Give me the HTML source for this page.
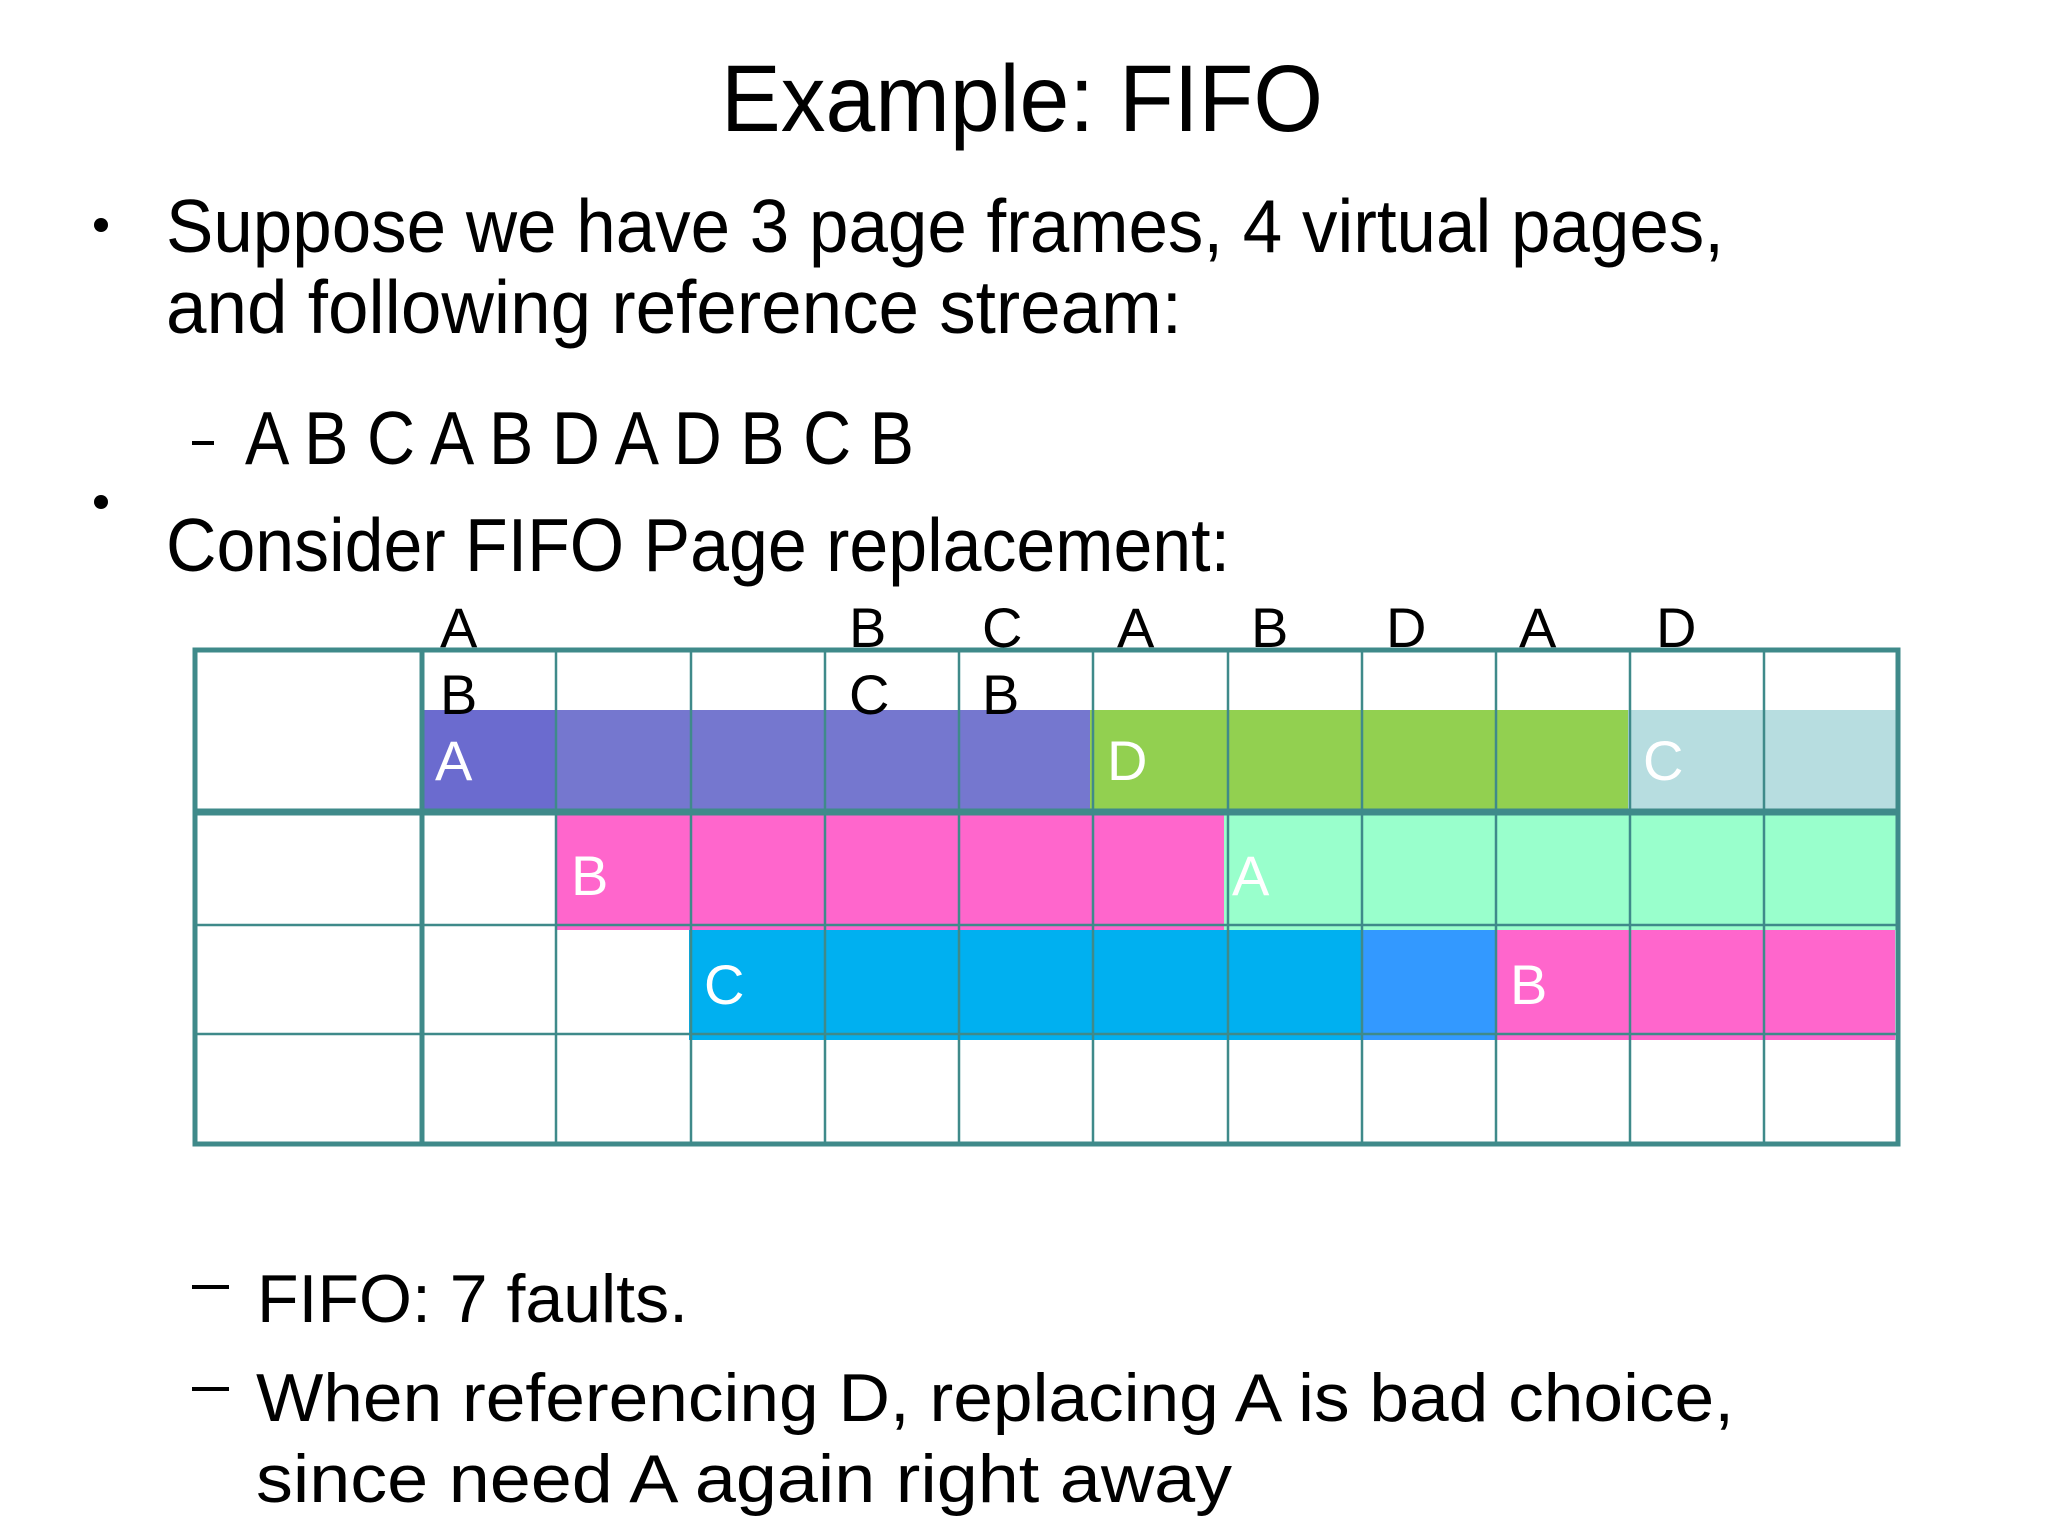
<!DOCTYPE html>
<html><head><meta charset="utf-8"><style>html,body{margin:0;padding:0;background:#fff}svg{display:block}</style></head>
<body>
<svg width="2048" height="1536" viewBox="0 0 2048 1536" xmlns="http://www.w3.org/2000/svg" font-family="'Liberation Sans', 'DejaVu Sans', sans-serif">
<rect width="2048" height="1536" fill="#fff"/>
<text x="721" y="131" font-size="95" textLength="602" lengthAdjust="spacingAndGlyphs" fill="#000">Example: FIFO</text>
<circle cx="101" cy="225" r="7" fill="#000"/>
<text x="166" y="252" font-size="75" textLength="1558" lengthAdjust="spacingAndGlyphs">Suppose we have 3 page frames, 4 virtual pages,</text>
<text x="166" y="333" font-size="75" textLength="1016" lengthAdjust="spacingAndGlyphs">and following reference stream:</text>
<rect x="192" y="441" width="22" height="4" fill="#000"/>
<text x="245" y="464" font-size="75" textLength="669" lengthAdjust="spacingAndGlyphs">A B C A B D A D B C B</text>
<circle cx="101" cy="502" r="7" fill="#000"/>
<text x="166" y="571" font-size="75" textLength="1064" lengthAdjust="spacingAndGlyphs">Consider FIFO Page replacement:</text>

<!-- bars -->
<rect x="422" y="710" width="134" height="102" fill="#6b6bcf"/>
<rect x="556" y="710" width="534" height="102" fill="#7577cf"/>
<rect x="1090" y="710" width="538" height="102" fill="#92d050"/>
<rect x="1628" y="710" width="270" height="102" fill="#b7dde0"/>
<rect x="556" y="812" width="668" height="118" fill="#ff66cc"/>
<rect x="1224" y="812" width="674" height="118" fill="#99ffcc"/>
<rect x="689" y="930" width="673" height="110" fill="#00b0f0"/>
<rect x="1362" y="930" width="133" height="110" fill="#3399ff"/>
<rect x="1495" y="930" width="400" height="110" fill="#ff66cc"/>

<!-- grid -->
<g stroke="#3f8a8a" stroke-width="2.5" fill="none">
<line x1="556" y1="650" x2="556" y2="1144"/><line x1="691" y1="650" x2="691" y2="1144"/>
<line x1="825" y1="650" x2="825" y2="1144"/><line x1="959" y1="650" x2="959" y2="1144"/>
<line x1="1093" y1="650" x2="1093" y2="1144"/><line x1="1228" y1="650" x2="1228" y2="1144"/>
<line x1="1362" y1="650" x2="1362" y2="1144"/><line x1="1496" y1="650" x2="1496" y2="1144"/>
<line x1="1630" y1="650" x2="1630" y2="1144"/><line x1="1764" y1="650" x2="1764" y2="1144"/>
<line x1="195" y1="925" x2="1898" y2="925"/><line x1="195" y1="1034" x2="1898" y2="1034"/>
</g>
<g stroke="#3f8a8a" stroke-width="5" fill="none">
<rect x="195" y="650" width="1703" height="494"/>
<line x1="422" y1="650" x2="422" y2="1144"/>
<line x1="195" y1="812" x2="1898" y2="812" stroke-width="7"/>
</g>

<!-- top letters -->
<g font-size="56" fill="#000">
<text x="440" y="647">A</text><text x="849" y="647">B</text><text x="982" y="647">C</text>
<text x="1117" y="647">A</text><text x="1251" y="647">B</text><text x="1386" y="647">D</text>
<text x="1519" y="647">A</text><text x="1656" y="647">D</text>
<text x="440" y="714">B</text><text x="849" y="714">C</text><text x="982" y="714">B</text>
</g>
<g font-size="56" fill="#fff">
<text x="435" y="780">A</text><text x="1107" y="780">D</text><text x="1643" y="780">C</text>
<text x="571" y="895">B</text><text x="1232" y="895">A</text>
<text x="704" y="1004">C</text><text x="1510" y="1004">B</text>
</g>

<rect x="192" y="1285" width="37" height="4" fill="#000"/>
<text x="257" y="1322" font-size="68" textLength="431" lengthAdjust="spacingAndGlyphs">FIFO: 7 faults.</text>
<rect x="192" y="1387" width="37" height="4" fill="#000"/>
<text x="256" y="1421" font-size="68" textLength="1478" lengthAdjust="spacingAndGlyphs">When referencing D, replacing A is bad choice,</text>
<text x="256" y="1502" font-size="68" textLength="976" lengthAdjust="spacingAndGlyphs">since   need A again right away</text>
</svg>
</body></html>
